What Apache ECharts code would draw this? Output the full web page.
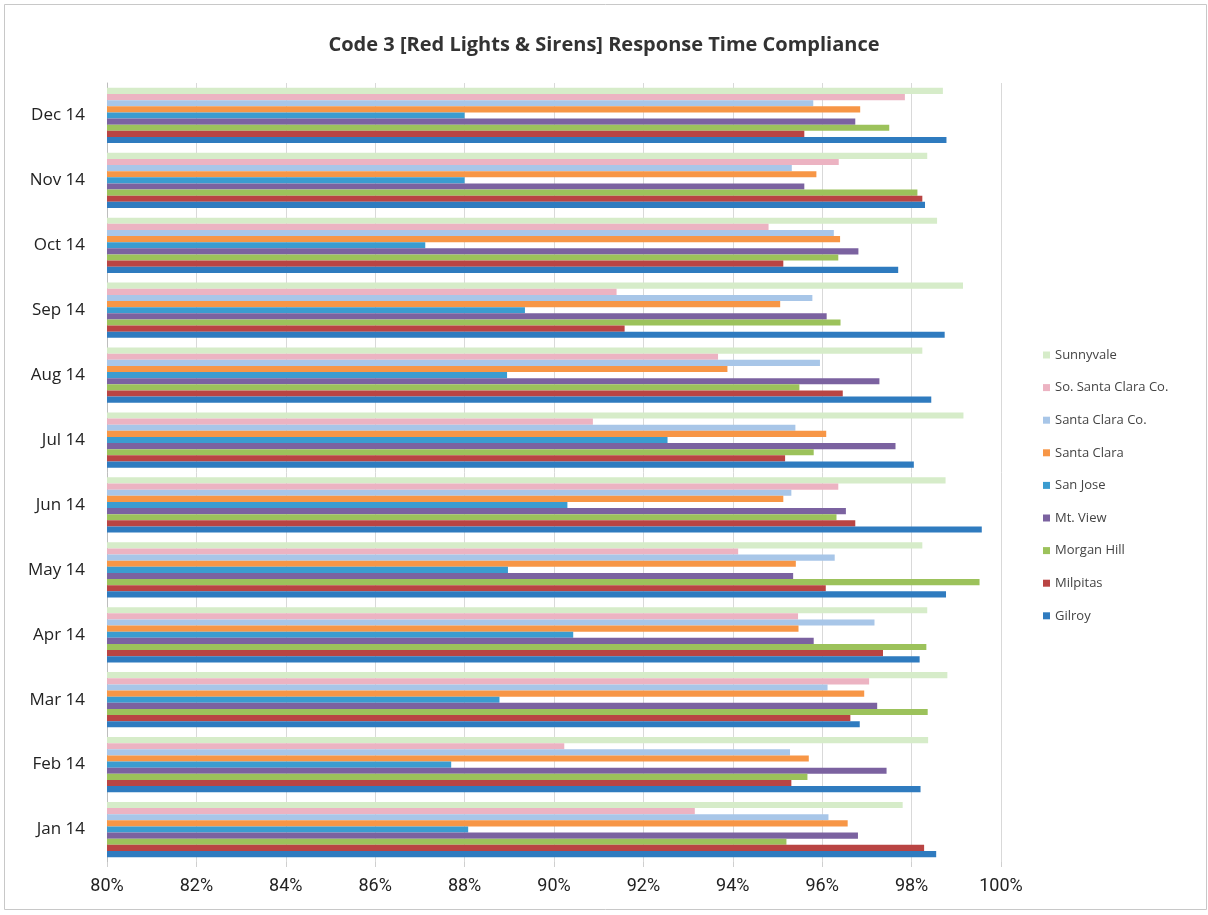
<!DOCTYPE html>
<html>
<head>
<meta charset="utf-8">
<script src="https://cdn.jsdelivr.net/npm/echarts@6/dist/echarts.min.js"></script>
<style>
html,body{margin:0;padding:0;background:#fff;}
#chart{width:1208px;height:915px;}
</style>
</head>
<body>
<div id="chart"></div>
<script>
const months = ['Jan 14','Feb 14','Mar 14','Apr 14','May 14','Jun 14','Jul 14','Aug 14','Sep 14','Oct 14','Nov 14','Dec 14'];
const xTicks = ['80%','82%','84%','86%','88%','90%','92%','94%','96%','98%','100%'];

// values in %, Jan..Dec
const gilroy      = [98.55, 98.20, 96.84, 98.18, 98.77, 99.57, 98.05, 98.44, 98.74, 97.70, 98.30, 98.78];
const milpitas    = [98.28, 95.31, 96.63, 97.36, 96.08, 96.74, 95.17, 96.46, 91.58, 95.13, 98.24, 95.60];
const morganHill  = [95.20, 95.67, 98.36, 98.33, 99.52, 96.32, 95.81, 95.49, 96.41, 96.36, 98.13, 97.50];
const mtView      = [96.80, 97.44, 97.23, 95.81, 95.35, 96.53, 97.64, 97.28, 96.10, 96.81, 95.60, 96.74];
const sanJose     = [88.08, 87.70, 88.78, 90.43, 88.97, 90.30, 92.54, 88.95, 89.35, 87.12, 88.00, 88.00];
const santaClara  = [96.57, 95.70, 96.94, 95.47, 95.41, 95.13, 96.09, 93.88, 95.06, 96.40, 95.87, 96.85];
const santaClaraCo= [96.14, 95.28, 96.12, 97.17, 96.28, 95.31, 95.40, 95.95, 95.78, 96.26, 95.32, 95.80];
const soSantaClaraCo = [93.15, 90.23, 97.05, 95.46, 94.12, 96.36, 90.87, 93.67, 91.40, 94.80, 96.37, 97.85];
const sunnyvale   = [97.80, 98.37, 98.80, 98.35, 98.24, 98.76, 99.16, 98.24, 99.15, 98.57, 98.35, 98.70];

const seriesNames = ['Gilroy','Milpitas','Morgan Hill','Mt. View','San Jose','Santa Clara','Santa Clara Co.','So. Santa Clara Co.','Sunnyvale'];
const seriesData = [gilroy, milpitas, morganHill, mtView, sanJose, santaClara, santaClaraCo, soSantaClaraCo, sunnyvale];
const colors = ['#2f7bbf','#b94443','#9cc25b','#7b62a0','#3b9cd0','#f79646','#a8c6e8','#ecb3c2','#d6ecc9'];

// ECharts stacks horizontal-bar series top-down within a band, so add them in reverse
const order = seriesNames.map((_, i) => i).reverse();

const chart = echarts.init(document.getElementById('chart'), null, {renderer:'canvas'});
const option = {
  backgroundColor: '#fff',
  animation: false,
  title: {
    text: 'Code 3 [Red Lights & Sirens] Response Time Compliance',
    left: 'center',
    top: 30,
    textStyle: {fontFamily: 'Open Sans', fontWeight: 'bold', fontSize: 20, color: '#333'}
  },
  graphic: [{
    type: 'rect',
    shape: {x: 4.5, y: 4.5, width: 1202, height: 905},
    style: {fill: 'none', stroke: '#c8c8c8', lineWidth: 1},
    silent: true
  }],
  legend: {
    orient: 'vertical',
    left: 1038,
    top: 343,
    data: seriesNames.slice().reverse(),
    itemWidth: 7,
    itemHeight: 7,
    itemGap: 18.6,
    icon: 'rect',
    textStyle: {fontFamily: 'Open Sans', fontSize: 13, color: '#444', lineHeight: 14}
  },
  grid: {left: 107, right: 207, top: 83, bottom: 53, containLabel: false},
  xAxis: {
    type: 'value',
    min: 80,
    max: 100,
    interval: 2,
    axisLine: {show: false},
    axisTick: {show: true, length: 5, lineStyle: {color: '#cfcfcf'}},
    splitLine: {show: true, lineStyle: {color: '#d9d9d9', width: 1}},
    axisLabel: {
      margin: 15,
      fontFamily: 'Roboto',
      fontSize: 18,
      color: '#222',
      formatter: function (v) { return xTicks[Math.round((v - 80) / 2)]; }
    }
  },
  yAxis: {
    type: 'category',
    data: months,
    axisLine: {show: true, lineStyle: {color: '#bdbdbd'}},
    axisTick: {show: false},
    axisLabel: {margin: 22, fontFamily: 'Open Sans', fontSize: 17, color: '#222'}
  },
  series: order.map(i => ({
    name: seriesNames[i],
    type: 'bar',
    data: seriesData[i],
    barGap: '0%',
    barCategoryGap: '15%',
    itemStyle: {color: colors[i]}
  }))
};
chart.setOption(option);
</script>
</body>
</html>
